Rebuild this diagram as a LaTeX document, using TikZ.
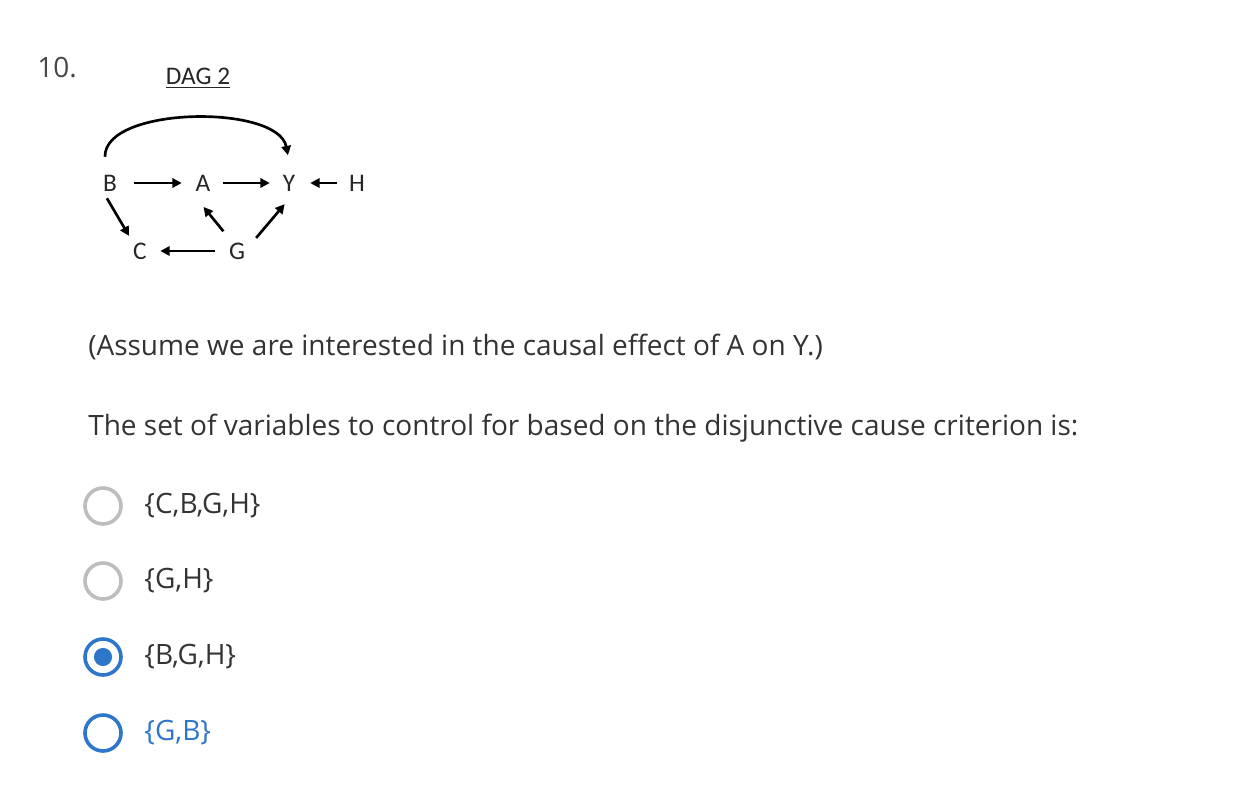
\documentclass[tikz,border=0pt]{standalone}
\usepackage{fontspec}
\setmainfont{Open Sans}
\newfontfamily\dagfont{Carlito}
\usepackage{xcolor}
\usetikzlibrary{arrows.meta, positioning}
\definecolor{txtgray}{HTML}{333333}
\definecolor{ringgray}{HTML}{BDBDBD}
\definecolor{quizblue}{HTML}{2E76C9}
\tikzset{
  var/.style={font=\dagfont\fontsize{19}{22}\selectfont, inner sep=0pt, text=black!85},
  edge/.style={line width=2pt, -{Triangle[length=7pt, width=7pt]}},
  qtext/.style={font=\fontsize{21}{25}\selectfont, text=txtgray, anchor=west, inner sep=0pt},
  radio/.style={circle, draw=ringgray, line width=2.7pt, minimum size=27pt, inner sep=0pt},
  radioon/.style={radio, draw=quizblue}
}

\begin{document}
\begin{tikzpicture}[x=0.75pt, y=-0.75pt]
\useasboundingbox (0,0) rectangle (1246,804);
% question number and title
\node[qtext, text=txtgray!90] (num) at (37,68) {10.};
\node[var] (title) at (198,78) {\underline{DAG 2}};
% DAG variables
\node[var] (B) at (110,183) {B};
\node[var] (A) at (203,183) {A};
\node[var] (Y) at (289,183) {Y};
\node[var] (H) at (357,183) {H};
\node[var] (C) at (140,251) {C};
\node[var] (G) at (237,251) {G};
% DAG edges
\draw[edge, shorten <=12.8pt, shorten >=10.3pt] (B) -- (A);
\draw[edge, shorten <=9.5pt, shorten >=9.6pt] (A) -- (Y);
\draw[edge, shorten <=9.1pt, shorten >=11.1pt] (H) -- (Y);
\draw[edge, shorten <=6pt, shorten >=5.7pt] (B.south west) -- (C.north west);
\draw[edge, shorten <=10.8pt, shorten >=15pt] ([xshift=-3.4pt]G.north) -- ([xshift=-3.4pt]A.south west);
\draw[edge, shorten <=4.4pt, shorten >=12.5pt] ([xshift=5.3pt]G.north east) -- (Y.south east);
\draw[edge, shorten <=10.5pt, shorten >=10pt] (G) -- (C);
\draw[edge, shorten <=13.4pt, shorten >=14.8pt] ([xshift=-3.5pt]B.north) .. controls (104,106) and (278,104) .. ([xshift=2pt]Y.north);
% question text
\node[qtext] (assume) at (88,347) {(Assume we are interested in the causal effect of A on Y.)};
\node[qtext] (criterion) at (88,428) {The set of variables to control for based on the disjunctive cause criterion is:};
% answer options
\node[radio] (r1) at (103,506) {};
\node[radio] (r2) at (103,581) {};
\node[radioon] (r3) at (103,657) {};
\node[radioon] (r4) at (103,733) {};
\fill[quizblue] (r3.center) circle (6.8pt);
\node[qtext, right=16pt of r1] (o1) {\{C,B,G,H\}};
\node[qtext, right=16pt of r2] (o2) {\{G,H\}};
\node[qtext, right=16pt of r3] (o3) {\{B,G,H\}};
\node[qtext, right=16pt of r4, text=quizblue] (o4) {\{G,B\}};
\end{tikzpicture}
\end{document}
